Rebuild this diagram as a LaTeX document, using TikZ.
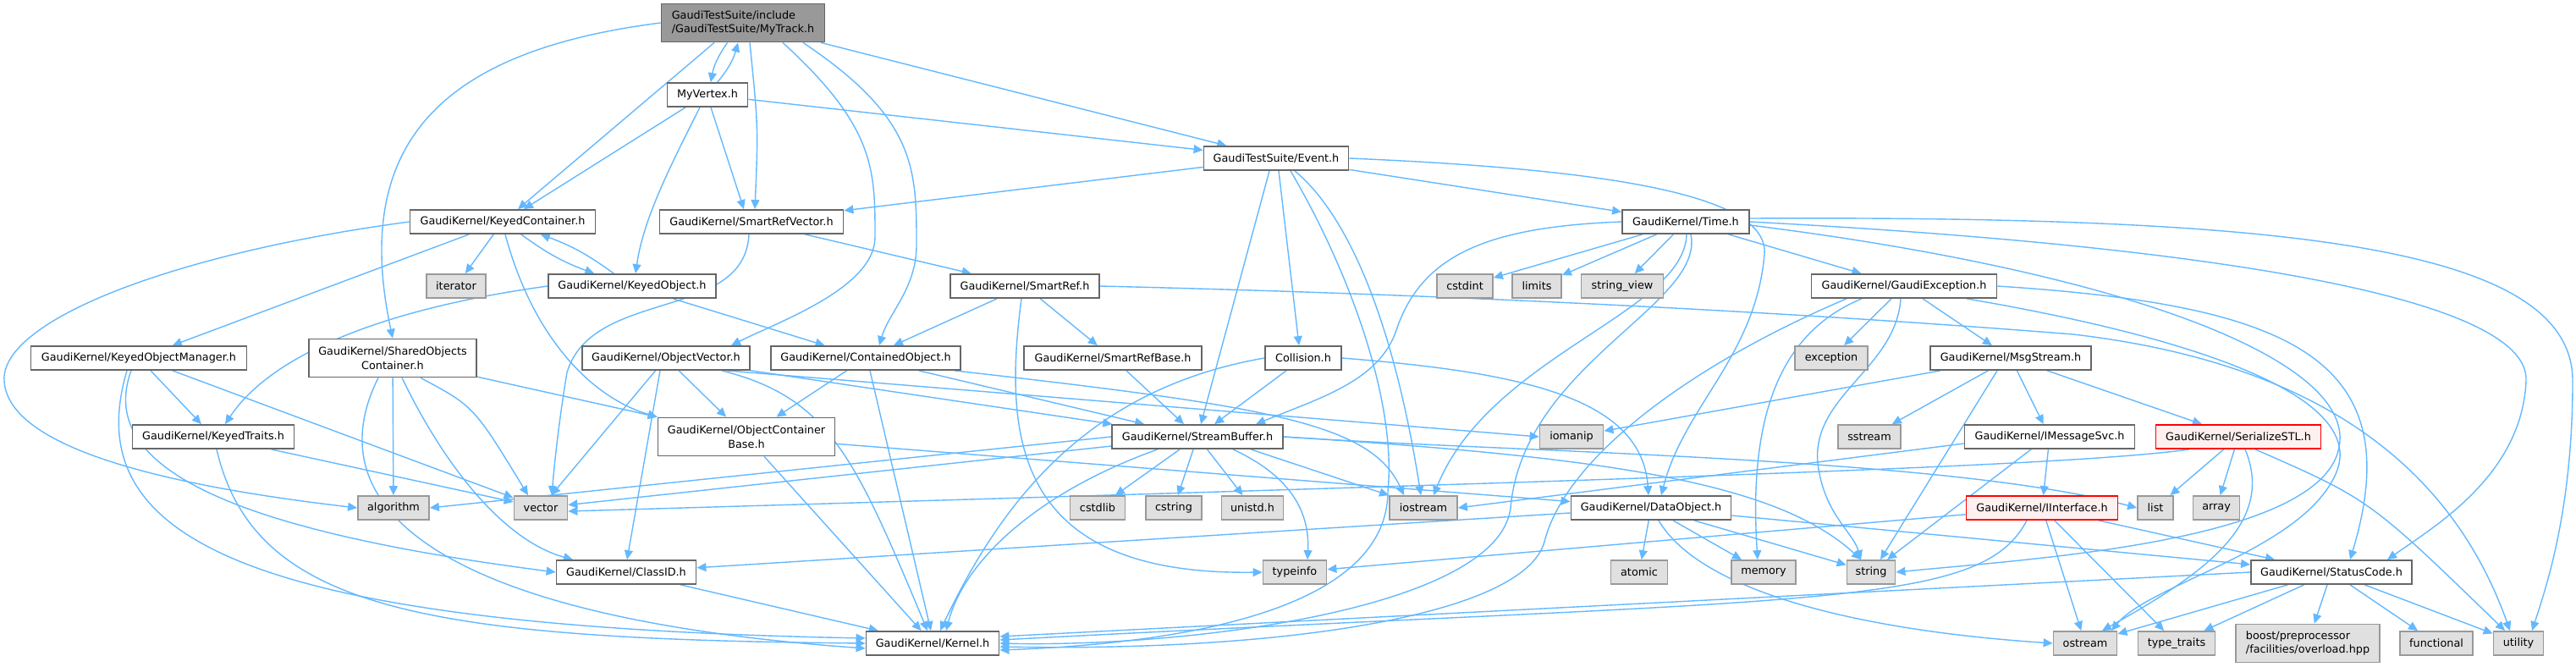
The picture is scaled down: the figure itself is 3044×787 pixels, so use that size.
\documentclass[tikz,border=0pt]{standalone}
\usepackage{fontspec}
\usepackage{tikz}
\usetikzlibrary{arrows.meta, backgrounds}
\newfontfamily\dejavu{DejaVu Sans}
\definecolor{EdgeBlue}{HTML}{63B8FF}
\definecolor{BoxGray}{HTML}{666666}
\definecolor{SysGray}{HTML}{999999}
\definecolor{SysFill}{HTML}{E0E0E0}
\definecolor{MainFill}{HTML}{999999}
\definecolor{BadRed}{HTML}{FF0000}
\definecolor{BadFill}{HTML}{FFF0F0}

\begin{document}
\begin{tikzpicture}[x=0.5pt, y=-0.5pt,
    hdr/.style={draw=BoxGray, fill=white, line width=0.9pt, inner sep=0pt,
                minimum height=14pt, align=center,
                font=\dejavu\fontsize{6.4}{8.3}\selectfont},
    bw/.style={minimum width=#1*0.5pt},
    tall/.style={minimum height=22.5pt},
    sys/.style={hdr, draw=SysGray, fill=SysFill},
    mainhdr/.style={hdr, fill=MainFill},
    badhdr/.style={hdr, draw=BadRed, fill=BadFill},
    dep/.style={EdgeBlue, line width=0.7pt, -{Triangle[length=5.5pt,width=5pt]}}]
    \useasboundingbox (0,0) rectangle (3044,787);

    % headers, row by row
    \node[mainhdr, bw=193, tall, align=left] (track) at (878,27) {GaudiTestSuite/include\\/GaudiTestSuite/MyTrack.h};
    \node[hdr, bw=95] (vertex) at (836,112) {MyVertex.h};
    \node[hdr, bw=171] (event) at (1508,187) {GaudiTestSuite/Event.h};

    \node[hdr, bw=219] (keyedcont) at (594,262) {GaudiKernel/KeyedContainer.h};
    \node[hdr, bw=217] (smartrefvec) at (888,262) {GaudiKernel/SmartRefVector.h};
    \node[hdr, bw=150] (time) at (1992,262) {GaudiKernel/Time.h};

    \node[sys, bw=70] (iterator) at (539,338) {iterator};
    \node[hdr, bw=198] (keyedobj) at (747,338) {GaudiKernel/KeyedObject.h};
    \node[hdr, bw=176] (smartref) at (1211,338) {GaudiKernel/SmartRef.h};
    \node[sys, bw=66] (cstdint) at (1731,338) {cstdint};
    \node[sys, bw=58] (limits) at (1816,338) {limits};
    \node[sys, bw=97] (strview) at (1917,338) {string\_view};
    \node[hdr, bw=219] (gexc) at (2250,338) {GaudiKernel/GaudiException.h};

    \node[hdr, bw=255] (kom) at (164,423) {GaudiKernel/KeyedObjectManager.h};
    \node[hdr, bw=198, tall] (shared) at (464,423) {GaudiKernel/SharedObjects\\Container.h};
    \node[hdr, bw=198] (objvec) at (787,423) {GaudiKernel/ObjectVector.h};
    \node[hdr, bw=224] (contobj) at (1023,423) {GaudiKernel/ContainedObject.h};
    \node[hdr, bw=210] (srbase) at (1315,423) {GaudiKernel/SmartRefBase.h};
    \node[hdr, bw=90] (collision) at (1540,423) {Collision.h};
    \node[sys, bw=86] (exception) at (2164,423) {exception};
    \node[hdr, bw=190] (msgstream) at (2376,423) {GaudiKernel/MsgStream.h};

    \node[hdr, bw=191] (keyedtraits) at (252,516) {GaudiKernel/KeyedTraits.h};
    \node[hdr, bw=209, tall] (ocbase) at (882,516) {GaudiKernel/ObjectContainer\\Base.h};
    \node[hdr, bw=202] (streambuf) at (1415,516) {GaudiKernel/StreamBuffer.h};
    \node[sys, bw=75] (iomanip) at (1857,516) {iomanip};
    \node[sys, bw=74] (sstream) at (2209,516) {sstream};
    \node[hdr, bw=201] (imsgsvc) at (2422,516) {GaudiKernel/IMessageSvc.h};
    \node[badhdr, bw=195] (serstl) at (2645,516) {GaudiKernel/SerializeSTL.h};

    \node[sys, bw=84] (algorithm) at (465,600) {algorithm};
    \node[sys, bw=63] (vector) at (639,600) {vector};
    \node[sys, bw=65] (cstdlib) at (1297,600) {cstdlib};
    \node[sys, bw=66] (cstring) at (1387,600) {cstring};
    \node[sys, bw=73] (unistd) at (1480,600) {unistd.h};
    \node[sys, bw=80] (iostream) at (1682,600) {iostream};
    \node[hdr, bw=189] (dataobj) at (1951,600) {GaudiKernel/DataObject.h};
    \node[badhdr, bw=179] (iinterface) at (2413,600) {GaudiKernel/IInterface.h};
    \node[sys, bw=42] (list) at (2547,600) {list};
    \node[sys, bw=55] (array) at (2619,600) {array};

    \node[hdr, bw=165] (classid) at (740,676) {GaudiKernel/ClassID.h};
    \node[sys, bw=75] (typeinfo) at (1530,676) {typeinfo};
    \node[sys, bw=67] (atomic) at (1937,676) {atomic};
    \node[sys, bw=76] (memory) at (2084,676) {memory};
    \node[sys, bw=57] (string) at (2211,676) {string};
    \node[hdr, bw=190] (statuscode) at (2755,676) {GaudiKernel/StatusCode.h};

    \node[hdr, bw=157] (kernel) at (1102,760) {GaudiKernel/Kernel.h};
    \node[sys, bw=75] (ostream) at (2464,760) {ostream};
    \node[sys, bw=91] (typetraits) at (2572,760) {type\_traits};
    \node[sys, bw=170, tall, align=left] (boost) at (2727,760) {boost/preprocessor\\/facilities/overload.hpp};
    \node[sys, bw=86] (functional) at (2879,760) {functional};
    \node[sys, bw=59] (utility) at (2976,760) {utility};

    \begin{scope}[on background layer]
    % MyTrack.h
    \draw[dep] (track) to[bend right=12] (vertex);
    \draw[dep] ([xshift=-17pt]track.south) -- ([xshift=9pt]keyedcont.north);
    \draw[dep] ([xshift=4pt]track.south) .. controls (896,150) .. ([xshift=2pt]smartrefvec.north);
    \draw[dep] (track) -- (event);
    \draw[dep] (track.west) .. controls (520,60) and (415,170) .. (shared.north);
    \draw[dep] ([xshift=23.5pt]track.south) .. controls (1034,150) and (1034,200) .. (1034,280)
        .. controls (1034,340) and (920,380) .. ([xshift=38.5pt]objvec.north);
    \draw[dep] ([xshift=35.5pt]track.south) .. controls (1083,140) and (1083,200) .. (1083,290)
        .. controls (1083,340) and (1050,370) .. ([xshift=8pt]contobj.north);

    % MyVertex.h
    \draw[dep] (vertex) to[bend right=12] (track);
    \draw[dep] ([xshift=-13pt]vertex.south) -- ([xshift=12.5pt]keyedcont.north);
    \draw[dep] ([xshift=-4.5pt]vertex.south) .. controls (790,200) and (760,260) .. ([xshift=2pt]keyedobj.north);
    \draw[dep] ([xshift=2pt]vertex.south) -- ([xshift=-4.5pt]smartrefvec.north);
    \draw[dep] (vertex) -- (event);

    % Event.h
    \draw[dep] (event) -- (smartrefvec);
    \draw[dep] (event) -- (time);
    \draw[dep] ([xshift=1.5pt]event.south) -- ([xshift=-2.5pt]collision.north);
    \draw[dep] ([xshift=-4pt]event.south) -- ([xshift=2pt]streambuf.north);
    \draw[dep] ([xshift=11pt]event.south) .. controls (1600,260) and (1650,400) .. ([xshift=-1.5pt]iostream.north);
    \draw[dep] ([xshift=8.5pt]event.south) .. controls (1600,330) and (1650,480) .. (1640,580)
        .. controls (1640,720) and (1400,760) .. ([yshift=-4pt]kernel.east);
    \draw[dep] (event.east) .. controls (1900,200) and (2090,230) .. (2085,300)
        .. controls (2075,420) and (1990,480) .. ([xshift=6pt]dataobj.north);

    % KeyedContainer.h
    \draw[dep] (keyedcont) -- (iterator);
    \draw[dep] (keyedcont) to[bend right=8] (keyedobj);
    \draw[dep] (keyedcont) -- (kom);
    \draw[dep] (keyedcont.west) .. controls (200,300) and (0,380) .. (5,450)
        .. controls (10,540) and (250,580) .. (algorithm.west);
    \draw[dep] ([xshift=1.5pt]keyedcont.south) .. controls (630,400) and (700,470) .. (ocbase.north west);

    % SmartRefVector.h
    \draw[dep] (smartrefvec) -- (smartref);
    \draw[dep] ([xshift=-1.5pt]smartrefvec.south) .. controls (880,380) and (700,340) .. (670,440)
        .. controls (660,500) and (655,550) .. ([xshift=6.5pt]vector.north);

    % KeyedObject.h
    \draw[dep] (keyedobj) to[bend right=8] (keyedcont);
    \draw[dep] (keyedobj) -- (contobj);
    \draw[dep] (keyedobj.west) .. controls (450,365) and (320,420) .. ([xshift=7pt]keyedtraits.north);

    % KeyedObjectManager.h
    \draw[dep] (kom) -- (keyedtraits);
    \draw[dep] (kom) -- (vector);
    \draw[dep] ([xshift=-4.5pt]kom.south) .. controls (110,560) and (300,630) .. (classid.west);
    \draw[dep] ([xshift=-7pt]kom.south) .. controls (90,640) and (300,740) .. ([yshift=3pt]kernel.west);

    % KeyedTraits.h
    \draw[dep] (keyedtraits) -- (vector);
    \draw[dep] ([xshift=2pt]keyedtraits.south) .. controls (300,720) and (500,755) .. (kernel.west);

    % SharedObjectsContainer.h
    \draw[dep] (shared) -- (algorithm);
    \draw[dep] ([xshift=16.5pt]shared.south) .. controls (560,480) .. ([xshift=-7.5pt]vector.north);
    \draw[dep] ([xshift=5.5pt]shared.south) .. controls (530,560) and (600,640) .. ([xshift=-31.5pt]classid.north);
    \draw[dep] ([xshift=-8.5pt]shared.south) .. controls (370,600) and (520,730) .. ([yshift=-3pt]kernel.west);
    \draw[dep] (shared) -- (ocbase);

    % ObjectVector.h
    \draw[dep] (objvec) -- (ocbase);
    \draw[dep] (objvec) -- (streambuf);
    \draw[dep] (objvec) -- (vector);
    \draw[dep] ([xshift=-3.5pt]objvec.south) -- ([xshift=0.5pt]classid.north);
    \draw[dep] ([xshift=33pt]objvec.south) .. controls (980,470) and (1010,540) .. ([xshift=-3pt]kernel.north);
    \draw[dep] ([xshift=36pt]objvec.south) -- (iomanip.west);

    % ContainedObject.h
    \draw[dep] (contobj) -- (ocbase);
    \draw[dep] (contobj) -- (streambuf);
    \draw[dep] ([xshift=2.5pt]contobj.south) -- ([xshift=-1pt]kernel.north);
    \draw[dep] ([xshift=52.5pt]contobj.south) .. controls (1500,480) and (1620,500) .. ([xshift=-11.5pt]iostream.north);

    % SmartRef.h
    \draw[dep] (smartref) -- (contobj);
    \draw[dep] (smartref) -- (srbase);
    \draw[dep] ([xshift=-2pt]smartref.south) .. controls (1185,520) and (1200,680) .. (typeinfo.west);
    \draw[dep] (smartref.east) .. controls (1800,350) and (2200,375) .. (2450,395)
        .. controls (2750,430) and (2900,560) .. ([xshift=-5pt]utility.north);
    \draw[dep] (srbase) -- (streambuf);

    % Collision.h
    \draw[dep] (collision) -- (streambuf);
    \draw[dep] (collision.east) .. controls (1800,440) and (1940,470) .. ([xshift=-1.5pt]dataobj.north);
    \draw[dep] (collision.west) .. controls (1280,460) and (1180,600) .. ([xshift=4.5pt]kernel.north);

    % StreamBuffer.h
    \draw[dep] (streambuf) -- (cstdlib);
    \draw[dep] (streambuf) -- (cstring);
    \draw[dep] (streambuf) -- (unistd);
    \draw[dep] ([xshift=21pt]streambuf.south) .. controls (1520,560) and (1548,600) .. ([xshift=7.5pt]typeinfo.north);
    \draw[dep] ([xshift=31.5pt]streambuf.south) -- (iostream.north west);
    \draw[dep] (streambuf.east) .. controls (1900,540) and (2100,570) .. ([xshift=-6pt]string.north);
    \draw[dep] (streambuf.east) .. controls (1800,535) and (2300,540) .. (list.west);
    \draw[dep] (streambuf) -- (vector);
    \draw[dep] (streambuf.west) -- (algorithm.east);
    \draw[dep] ([xshift=-23.5pt]streambuf.south) .. controls (1230,580) and (1140,660) .. ([xshift=8pt]kernel.north);

    % Time.h
    \draw[dep] (time) -- (cstdint);
    \draw[dep] (time) -- (limits);
    \draw[dep] (time) -- (strview);
    \draw[dep] (time) -- (gexc);
    \draw[dep] (time.west) .. controls (1760,268) and (1680,300) .. (1650,390)
        .. controls (1630,450) and (1560,470) .. ([xshift=34.5pt]streambuf.north);
    \draw[dep] ([xshift=0.5pt]time.south) .. controls (1990,370) and (1760,420) .. ([xshift=6pt]iostream.north);
    \draw[dep] ([xshift=3pt]time.south) .. controls (2015,360) and (1800,430) .. (1785,600)
        .. controls (1770,720) and (1400,765) .. (kernel.east);
    \draw[dep] ([yshift=2pt]time.east) .. controls (2700,255) and (3040,290) .. (3040,450)
        .. controls (3040,600) and (3010,690) .. ([xshift=8pt]utility.north);
    \draw[dep] (time.east) .. controls (2600,290) and (2990,350) .. (2985,450)
        .. controls (2980,560) and (2880,620) .. ([xshift=33pt]statuscode.north);
    \draw[dep] ([yshift=-2pt]time.east) .. controls (2500,320) and (2770,420) .. (2765,520)
        .. controls (2760,640) and (2400,660) .. (string.east);

    % GaudiException.h
    \draw[dep] (gexc) -- (exception);
    \draw[dep] (gexc) -- (msgstream);
    \draw[dep] ([xshift=-2pt]gexc.south) .. controls (2240,440) and (2130,470) .. (2150,560)
        .. controls (2160,610) and (2190,630) .. ([xshift=-6pt]string.north);
    \draw[dep] ([xshift=-25pt]gexc.south) .. controls (2110,390) and (2065,480) .. ([xshift=-3.5pt]memory.north);
    \draw[dep] ([xshift=-34pt]gexc.south) .. controls (2000,430) and (1850,540) .. (1825,640)
        .. controls (1800,730) and (1500,770) .. ([yshift=-2pt]kernel.east);
    \draw[dep] (gexc.east) .. controls (2700,360) and (2850,420) .. ([xshift=11pt]statuscode.north);
    \draw[dep] ([xshift=37pt]gexc.south) .. controls (2600,400) and (2800,470) .. (2760,560)
        .. controls (2720,650) and (2540,690) .. ([xshift=15.5pt]ostream.north);

    % MsgStream.h
    \draw[dep] (msgstream) -- (iomanip);
    \draw[dep] (msgstream) -- (sstream);
    \draw[dep] ([xshift=-8pt]msgstream.south) -- ([xshift=5.5pt]string.north);
    \draw[dep] (msgstream) -- (imsgsvc);
    \draw[dep] (msgstream) -- (serstl);

    % IMessageSvc.h
    \draw[dep] ([yshift=-4pt]imsgsvc.west) -- (iostream.east);
    \draw[dep] ([xshift=-11pt]imsgsvc.south) -- ([xshift=9.5pt]string.north);
    \draw[dep] (imsgsvc) -- (iinterface);

    % SerializeSTL.h
    \draw[dep] ([xshift=-29pt]serstl.south) .. controls (2450,550) and (2000,565) .. ([yshift=-2pt]vector.east);
    \draw[dep] (serstl) -- (list);
    \draw[dep] (serstl) -- (array);
    \draw[dep] ([xshift=4pt]serstl.south) .. controls (2690,620) and (2600,680) .. ([xshift=10pt]ostream.north);
    \draw[dep] ([xshift=10pt]serstl.south) .. controls (2800,590) .. ([xshift=-8pt]utility.north);

    % IInterface.h
    \draw[dep] (iinterface) -- (typeinfo);
    \draw[dep] ([xshift=-9pt]iinterface.south) .. controls (2340,720) and (2150,705) .. ([yshift=2pt]kernel.east);
    \draw[dep] (iinterface) -- (ostream);
    \draw[dep] (iinterface) -- (typetraits);
    \draw[dep] (iinterface) -- (statuscode);

    % StatusCode.h
    \draw[dep] (statuscode.west) -- ([yshift=4pt]kernel.east);
    \draw[dep] (statuscode) -- (ostream);
    \draw[dep] (statuscode) -- (typetraits);
    \draw[dep] (statuscode) -- (boost);
    \draw[dep] (statuscode) -- (functional);
    \draw[dep] (statuscode) -- (utility);

    % DataObject.h
    \draw[dep] (dataobj) -- (classid);
    \draw[dep] (dataobj) -- (atomic);
    \draw[dep] (dataobj) -- (memory);
    \draw[dep] (dataobj) -- (string);
    \draw[dep] (dataobj) -- (statuscode);
    \draw[dep] ([xshift=4.5pt]dataobj.south) .. controls (2010,700) and (2200,745) .. (ostream.west);

    % the rest
    \draw[dep] (classid) -- (kernel);
    \draw[dep] (ocbase) -- (kernel);
    \draw[dep] (ocbase) -- (dataobj);
    \end{scope}
\end{tikzpicture}
\end{document}
